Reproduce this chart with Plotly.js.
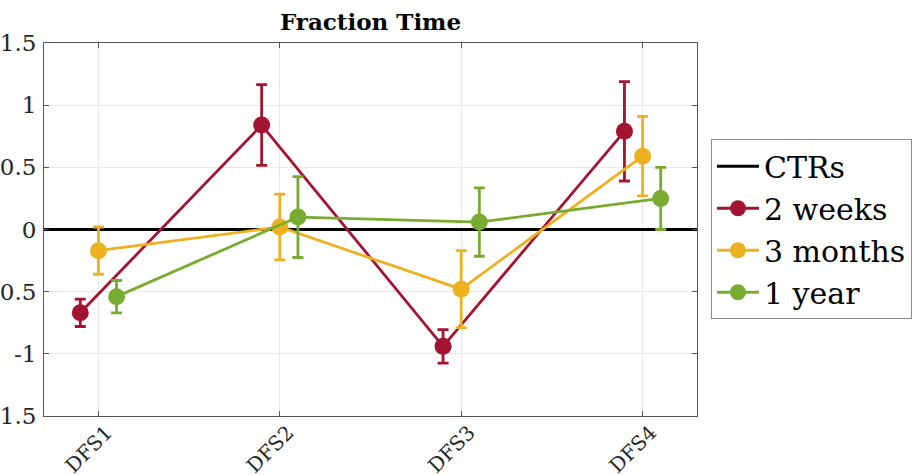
<!DOCTYPE html>
<html>
<head>
<meta charset="utf-8">
<script src="https://cdn.plot.ly/plotly-3.0.1.min.js"></script>
<style>html,body{margin:0;padding:0;background:#fff;}#chart{width:917px;height:475px;}</style>
</head>
<body>
<div id="chart"></div>
<script>
const categories = ['DFS1', 'DFS2', 'DFS3', 'DFS4'];
const weeks2 = [-0.67, 0.84, -0.94, 0.79];
const weeks2Err = [0.11, 0.325, 0.135, 0.40];
const months3 = [-0.17, 0.02, -0.48, 0.59];
const months3Err = [0.19, 0.265, 0.31, 0.32];
const year1 = [-0.54, 0.10, 0.06, 0.25];
const year1Err = [0.13, 0.325, 0.275, 0.25];
const ctrValue = [0, 0];
const yTickVals = [-1.5, -1, -0.5, 0, 0.5, 1, 1.5];
const yTickText = ['-1.5', '-1', '-0.5', '0', '0.5', '1', '1.5'];

const xRange = [0.7, 4.3];
const idx = categories.map((c, i) => i + 1);
const serif = 'DejaVu Serif, serif';

function series(name, y, err, color, offset) {
  return {
    type: 'scatter', mode: 'lines+markers', name: name,
    x: idx.map(v => v + offset), y: y,
    line: {color: color, width: 2.8},
    marker: {color: color, size: 17, symbol: 'circle'},
    error_y: {type: 'data', array: err, visible: true, color: color, thickness: 2.8, width: 5.5}
  };
}

const traces = [
  {type: 'scatter', mode: 'lines', name: 'CTRs', x: xRange, y: ctrValue,
   line: {color: '#000000', width: 2.8}},
  series('2 weeks', weeks2, weeks2Err, '#A2142F', -0.1),
  series('3 months', months3, months3Err, '#EDB120', 0),
  series('1 year', year1, year1Err, '#77AC30', 0.1)
];

const layout = {
  width: 917, height: 475,
  margin: {l: 44, r: 220, t: 42.5, b: 59, autoexpand: false},
  paper_bgcolor: '#ffffff', plot_bgcolor: '#ffffff',
  font: {family: serif, color: '#262626', size: 20},
  title: {text: '<b>Fraction Time</b>', font: {family: serif, size: 23, color: '#000000'},
          x: 0.5, xref: 'paper', y: 0.953, yref: 'container', yanchor: 'middle'},
  showlegend: true,
  legend: {x: 1.0214, xanchor: 'left', y: 0.742, yanchor: 'top',
           font: {family: serif, size: 30, color: '#000000'},
           bgcolor: '#ffffff', bordercolor: '#8c8c8c', borderwidth: 1,
           tracegroupgap: 0, itemwidth: 42},
  xaxis: {range: xRange, tickvals: idx, ticktext: categories, tickangle: -45,
          showgrid: true, gridcolor: '#e8e8e8', gridwidth: 1, zeroline: false,
          showline: true, linecolor: '#555555', linewidth: 1, mirror: 'ticks',
          ticks: 'inside', ticklen: 5, tickcolor: '#555555',
          ticklabelshift: 8, ticklabelstandoff: -4,
          tickfont: {family: serif, size: 20, color: '#262626'}},
  yaxis: {range: [-1.5, 1.5], tickvals: yTickVals, ticktext: yTickText,
          showgrid: true, gridcolor: '#e8e8e8', gridwidth: 1, zeroline: false,
          showline: true, linecolor: '#555555', linewidth: 1, mirror: 'ticks',
          ticks: 'inside', ticklen: 5, tickcolor: '#555555', ticklabelstandoff: 2,
          tickfont: {family: serif, size: 23, color: '#262626'}}
};

Plotly.newPlot('chart', traces, layout, {displayModeBar: false, staticPlot: true});
</script>
</body>
</html>
